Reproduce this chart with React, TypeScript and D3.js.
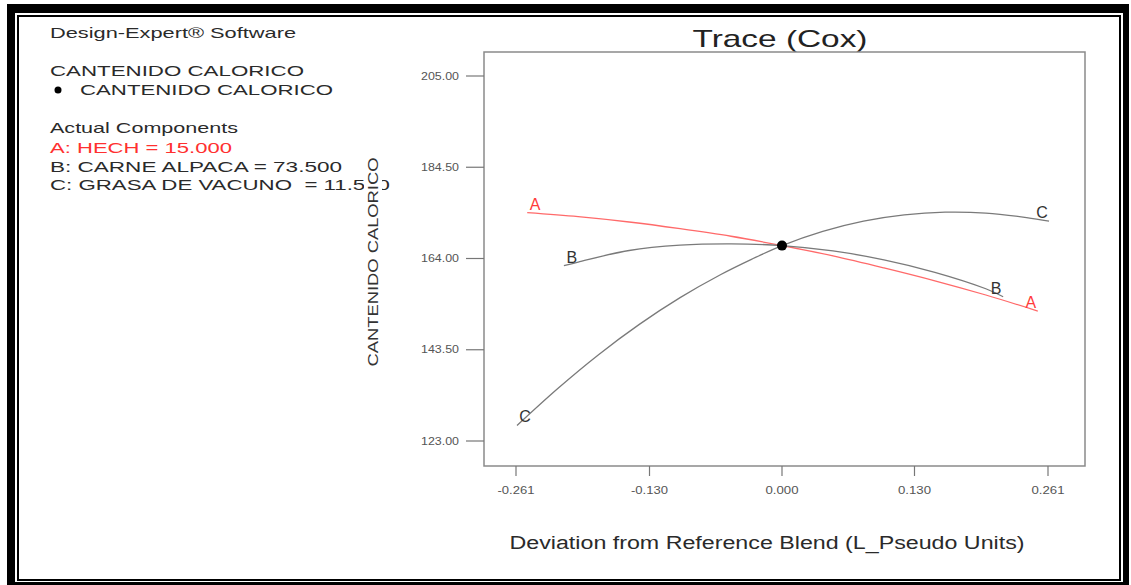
import React from "react";
import * as d3 from "d3";

const xTicks = [-0.261, -0.13, 0.0, 0.13, 0.261];
const xTickLabels = ["-0.261", "-0.130", "0.000", "0.130", "0.261"];
const yTicks = [123, 143.5, 164, 184.5, 205];
const yTickLabels = ["123.00", "143.50", "164.00", "184.50", "205.00"];

const traceADev = [-0.25, -0.2, -0.15, -0.1, -0.05, 0, 0.05, 0.1, 0.15, 0.2, 0.251];
const traceAVal = [174.3, 173.4, 172.2, 170.7, 169.0, 166.9, 164.6, 161.9, 159.0, 155.8, 152.2];

const traceBDev = [-0.214, -0.2, -0.15, -0.1, -0.05, 0, 0.05, 0.1, 0.15, 0.2, 0.217];
const traceBVal = [162.4, 163.2, 165.8, 167.0, 167.3, 166.9, 165.7, 163.7, 160.9, 157.2, 155.4];

const traceCDev = [-0.26, -0.22, -0.18, -0.14, -0.1, -0.06, -0.03, 0, 0.04, 0.08, 0.12, 0.16, 0.2, 0.24, 0.262];
const traceCVal = [126.5, 134.8, 142.4, 149.2, 155.2, 160.4, 163.8, 166.9, 170.1, 172.4, 173.8, 174.4, 174.2, 173.2, 172.4];

const refDev = [0];
const refVal = [166.9];

const traces = [
  { name: "A", dev: traceADev, val: traceAVal, line: "#ff6a6a", text: "#ff3b3b" },
  { name: "B", dev: traceBDev, val: traceBVal, line: "#7a7a7a", text: "#333" },
  { name: "C", dev: traceCDev, val: traceCVal, line: "#7a7a7a", text: "#333" },
];

const legendLines = [
  { t: "Design-Expert\u00AE Software", x: 50, y: 38, w: 246, c: "#2a2a2a" },
  { t: "CANTENIDO CALORICO", x: 50, y: 76, w: 254, c: "#2a2a2a" },
  { t: "CANTENIDO CALORICO", x: 80, y: 95, w: 253, c: "#2a2a2a" },
  { t: "Actual Components", x: 50, y: 133, w: 188, c: "#2a2a2a" },
  { t: "A: HECH = 15.000", x: 50, y: 153, w: 182, c: "#ff3030" },
  { t: "B: CARNE ALPACA = 73.500", x: 50, y: 172, w: 292, c: "#2a2a2a" },
  { t: "C: GRASA DE VACUNO  = 11.500", x: 50, y: 190, w: 340, c: "#2a2a2a" },
];

export default function App() {
  const x = d3.scaleLinear().domain([-0.261, 0.261]).range([516, 1048]);
  const y = d3.scaleLinear().domain([123, 205]).range([441, 76]);
  const box = { l: 484, r: 1085, t: 52, b: 466 };
  const line = d3
    .line<[number, number]>()
    .x((d) => x(d[0]))
    .y((d) => y(d[1]))
    .curve(d3.curveCatmullRom);
  const font = "Arial, 'Liberation Sans', sans-serif";

  return (
    <svg
      width={1131}
      height={585}
      style={{ position: "absolute", left: 0, top: 0 }}
      fontFamily={font}
    >
      <rect x={0} y={0} width={1131} height={585} fill="#fff" />
      <rect x={7} y={4} width={1122} height={581} fill="#000" />
      <rect x={15} y={13} width={1108} height={569} fill="#fff" />
      <rect x={18} y={16} width={1102} height={564} fill="none" stroke="#000" strokeWidth={2} />

      {legendLines.map((l, i) => (
        <text
          key={i}
          x={l.x}
          y={l.y}
          fontSize={15}
          fill={l.c}
          textLength={l.w}
          lengthAdjust="spacingAndGlyphs"
          style={{ whiteSpace: "pre" }}
        >
          {l.t}
        </text>
      ))}
      <circle cx={58} cy={90} r={3.5} fill="#000" />

      {/* y axis title with white backing */}
      <rect x={364} y={155} width={18} height={214} fill="#fff" />
      <text
        transform={`translate(378,262) rotate(-90)`}
        textAnchor="middle"
        fontSize={15}
        fill="#333"
        textLength={209}
        lengthAdjust="spacingAndGlyphs"
      >
        CANTENIDO CALORICO
      </text>

      <text
        x={780}
        y={47}
        textAnchor="middle"
        fontSize={24}
        fill="#222"
        textLength={175}
        lengthAdjust="spacingAndGlyphs"
      >
        Trace (Cox)
      </text>

      <rect
        x={box.l}
        y={box.t}
        width={box.r - box.l}
        height={box.b - box.t}
        fill="none"
        stroke="#8a8a8a"
        strokeWidth={1.5}
      />

      {yTicks.map((v, i) => (
        <g key={i}>
          <line x1={466} x2={box.l} y1={y(v)} y2={y(v)} stroke="#777" strokeWidth={1.2} />
          <text
            x={459}
            y={y(v) + 3.5}
            textAnchor="end"
            fontSize={10}
            fill="#555"
            textLength={38}
            lengthAdjust="spacingAndGlyphs"
          >
            {yTickLabels[i]}
          </text>
        </g>
      ))}

      {xTicks.map((v, i) => (
        <g key={i}>
          <line x1={x(v)} x2={x(v)} y1={box.b} y2={476} stroke="#777" strokeWidth={1.2} />
          <text
            x={x(v)}
            y={494}
            textAnchor="middle"
            fontSize={10}
            fill="#555"
            textLength={v < 0 ? 37 : 33}
            lengthAdjust="spacingAndGlyphs"
          >
            {xTickLabels[i]}
          </text>
        </g>
      ))}

      <text
        x={767}
        y={549}
        textAnchor="middle"
        fontSize={18}
        fill="#2a2a2a"
        textLength={515}
        lengthAdjust="spacingAndGlyphs"
      >
        Deviation from Reference Blend (L_Pseudo Units)
      </text>

      {traces.map((tr) => {
        const pts = tr.dev.map((d, i) => [d, tr.val[i]] as [number, number]);
        const first = pts[0];
        const last = pts[pts.length - 1];
        return (
          <g key={tr.name}>
            <path d={line(pts) || ""} fill="none" stroke={tr.line} strokeWidth={1.3} />
            <text
              x={x(first[0]) + 8}
              y={y(first[1]) - 3}
              textAnchor="middle"
              fontSize={16}
              fill={tr.text}
            >
              {tr.name}
            </text>
            <text
              x={x(last[0]) - 7}
              y={y(last[1]) - 3}
              textAnchor="middle"
              fontSize={16}
              fill={tr.text}
            >
              {tr.name}
            </text>
          </g>
        );
      })}

      {refDev.map((d, i) => (
        <circle key={i} cx={x(d)} cy={y(refVal[i])} r={5} fill="#000" />
      ))}
    </svg>
  );
}
